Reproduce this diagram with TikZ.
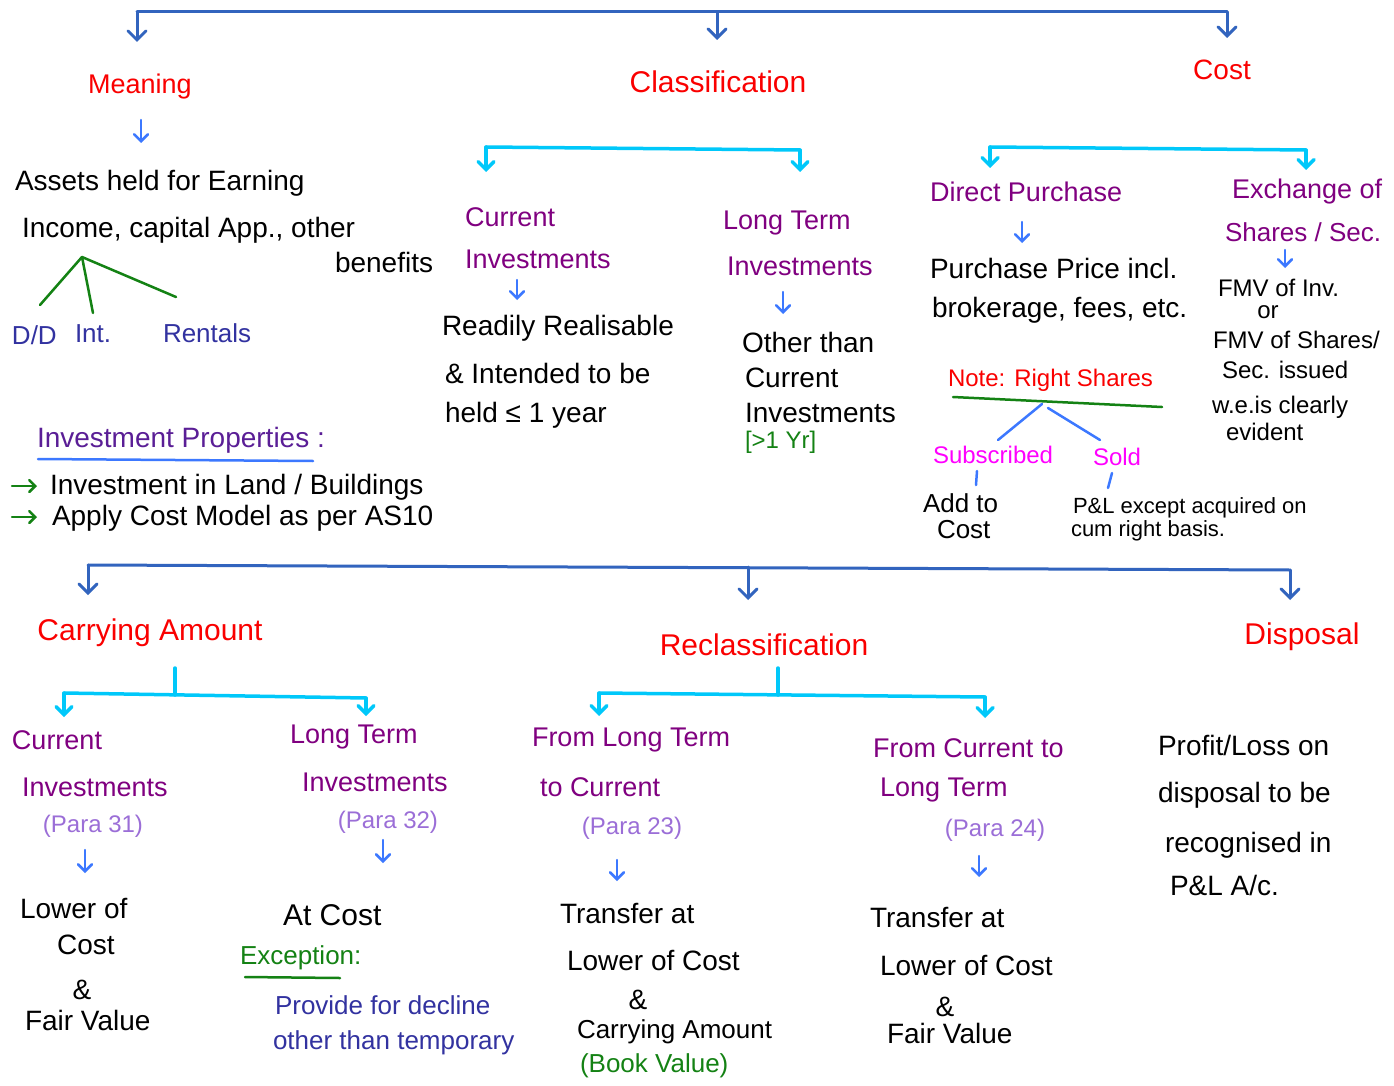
\documentclass[tikz,border=0pt]{standalone}
\usepackage{fontspec}
\setmainfont{Liberation Sans}
\usetikzlibrary{arrows.meta}
\definecolor{mainblue}{RGB}{50,100,190}
\definecolor{cyanb}{RGB}{0,200,250}
\definecolor{ablue}{RGB}{60,120,255}
\definecolor{hred}{RGB}{250,0,0}
\definecolor{hpurple}{RGB}{128,0,128}
\definecolor{lpurple}{RGB}{155,110,215}
\definecolor{navy}{RGB}{50,50,160}
\definecolor{ipurple}{RGB}{90,30,150}
\definecolor{dgreen}{RGB}{20,130,20}
\definecolor{magen}{RGB}{255,0,255}
\newcommand{\myfs}[1]{\fontsize{#1}{#1}\selectfont}
\tikzset{
  txt/.style={inner sep=0pt, outer sep=0pt, anchor=west},
  ctxt/.style={inner sep=0pt, outer sep=0pt, anchor=center},
  head/.style={text=hred, font=\myfs{30}},
  sub/.style={text=hpurple, font=\myfs{27}},
  body/.style={text=black, font=\myfs{28}},
  smallbody/.style={text=black, font=\myfs{24}},
  para/.style={text=lpurple, font=\myfs{24}},
  navytxt/.style={text=navy, font=\myfs{26}},
  greentxt/.style={text=dgreen, font=\myfs{26}},
  magtxt/.style={text=magen, font=\myfs{24}},
  mainln/.style={draw=mainblue, line width=3pt, line cap=round},
  mainarr/.style={mainln, -{Straight Barb[length=9pt,width=18pt,line cap=round]}},
  cyln/.style={draw=cyanb, line width=3.5pt, line cap=round},
  cyarr/.style={cyln, -{Straight Barb[length=8pt,width=16pt,line cap=round]}},
  sarr/.style={draw=ablue, line width=2.5pt, line cap=round, -{Straight Barb[length=7pt,width=14pt,line cap=round]}},
  garr/.style={draw=dgreen, line width=2.5pt, line cap=round, -{Straight Barb[length=6pt,width=12pt,line cap=round]}},
  gline/.style={draw=dgreen, line width=2.5pt, line cap=round},
  bline/.style={draw=ablue, line width=2.5pt, line cap=round},
}
\begin{document}
\begin{tikzpicture}[x=1pt,y=-1pt]
\fill[white] (0,0) rectangle (1394,1086);
\useasboundingbox (0,0) rectangle (1394,1086);

% ---------- top bracket ----------
\coordinate (tL) at (137,12); \coordinate (tM) at (717,12); \coordinate (tR) at (1227,12);
\coordinate (tLe) at (137,42); \coordinate (tMe) at (717,40); \coordinate (tRe) at (1227,38);
\draw[mainln] (tL) -- (tR);
\draw[mainarr] (tL) -- (tLe);
\draw[mainarr] (tM) -- (tMe);
\draw[mainarr] (tR) -- (tRe);

\node[ctxt,head,font=\myfs{27}] (meaning) at (140,87) {Meaning};
\node[ctxt,head] (classif) at (718,82) {Classification};
\node[ctxt,head,font=\myfs{28}] (cost) at (1222,70) {Cost};

% ---------- Meaning ----------
\coordinate (ma1) at (141,120); \coordinate (ma2) at (141,143);
\draw[sarr] (ma1) -- (ma2);
\node[txt,body] (assets) at (15,183) {Assets held for Earning};
\node[txt,body] (income) at (22,230) {Income, capital App., other};
\node[txt,body] (benef) at (335,262) {benefits};
\coordinate (gapex) at (82,257);
\coordinate (g1) at (40,305); \coordinate (g2) at (93,313); \coordinate (g3) at (176,297);
\draw[gline] (gapex) -- (g1);
\draw[gline] (gapex) -- (g2);
\draw[gline] (gapex) -- (g3);
\node[txt,navytxt] (dd) at (12,335) {D/D};
\node[txt,navytxt] (int) at (75,334) {Int.};
\node[txt,navytxt] (rent) at (163,333) {Rentals};

% ---------- Investment properties ----------
\node[txt,text=ipurple,font=\myfs{28}] (invprop) at (37,440) {Investment Properties :};
\coordinate (u1) at (38,459); \coordinate (u2) at (313,461);
\draw[bline] (u1) -- (u2);
\coordinate (ga1) at (12,486); \coordinate (ga2) at (37,486);
\coordinate (gb1) at (12,517); \coordinate (gb2) at (37,517);
\draw[garr] (ga1) -- (ga2);
\draw[garr] (gb1) -- (gb2);
\node[txt,body] (land) at (50,487) {Investment in Land / Buildings};
\node[txt,body] (apply) at (52,518) {Apply Cost Model as per AS10};

% ---------- Classification ----------
\coordinate (cA) at (486,147); \coordinate (cB) at (800,150);
\coordinate (cAe) at (486,172); \coordinate (cBe) at (800,172);
\draw[cyln] (cA) -- (cB);
\draw[cyarr] (cA) -- (cAe);
\draw[cyarr] (cB) -- (cBe);

\node[txt,sub] (curr1) at (465,217) {Current};
\node[txt,sub] (curr2) at (465,259) {Investments};
\coordinate (ca1) at (517,280); \coordinate (ca2) at (517,300);
\draw[sarr] (ca1) -- (ca2);
\node[txt,body] (ready1) at (442,328) {Readily Realisable};
\node[txt,body] (ready2) at (445,373) {\& Intended to be};
\node[txt,body] (ready3) at (445,415) {held ≤ 1 year};

\node[txt,sub] (lt1) at (723,223) {Long Term};
\node[txt,sub] (lt2) at (727,266) {Investments};
\coordinate (la1) at (783,292); \coordinate (la2) at (783,314);
\draw[sarr] (la1) -- (la2);
\node[txt,body] (oth1) at (742,342) {Other than};
\node[txt,body] (oth2) at (745,378) {Current};
\node[txt,body] (oth3) at (745,413) {Investments};
\node[txt,greentxt,font=\myfs{24}] (gt1) at (745,442) {[>1 Yr]};

% ---------- Cost ----------
\coordinate (kA) at (990,147); \coordinate (kB) at (1306,150);
\coordinate (kAe) at (990,168); \coordinate (kBe) at (1306,170);
\draw[cyln] (kA) -- (kB);
\draw[cyarr] (kA) -- (kAe);
\draw[cyarr] (kB) -- (kBe);

\node[txt,sub] (dp) at (930,192) {Direct Purchase};
\coordinate (da1) at (1022,222); \coordinate (da2) at (1022,243);
\draw[sarr] (da1) -- (da2);
\node[txt,body] (pp1) at (930,268) {Purchase Price incl.};
\node[txt,body] (pp2) at (932,310) {brokerage, fees, etc.};

\node[txt,head,font=\myfs{24}] (note) at (948,380) {Note: Right Shares};
\coordinate (n1) at (953,397); \coordinate (n2) at (1162,407);
\draw[gline] (n1) -- (n2);
\coordinate (rsA) at (1042,404); \coordinate (rsB) at (1048,408);
\coordinate (rsL) at (998,440); \coordinate (rsR) at (1100,440);
\draw[bline] (rsA) -- (rsL);
\draw[bline] (rsB) -- (rsR);
\node[txt,magtxt] (subs) at (933,455) {Subscribed};
\node[txt,magtxt] (sold) at (1093,457) {Sold};
\coordinate (st1) at (977,471); \coordinate (st2) at (976,485);
\coordinate (so1) at (1112,473); \coordinate (so2) at (1108,488);
\draw[bline] (st1) -- (st2);
\draw[bline] (so1) -- (so2);
\node[txt,body,font=\myfs{26}] (add1) at (923,503) {Add to};
\node[txt,body,font=\myfs{26}] (add2) at (937,530) {Cost};
\node[txt,body,font=\myfs{22}] (pl1) at (1073,508) {P\&L except acquired on};
\node[txt,body,font=\myfs{22}] (pl2) at (1071,531) {cum right basis.};

\node[txt,sub] (ex1) at (1232,192) {Exchange of};
\node[txt,sub,font=\myfs{26}] (ex2) at (1225,232) {Shares / Sec.};
\coordinate (ea1) at (1285,250); \coordinate (ea2) at (1285,268);
\draw[sarr] (ea1) -- (ea2);
\node[txt,smallbody] (fmv1) at (1218,288) {FMV of Inv.};
\node[ctxt,smallbody] (fmvor) at (1268,312) {or};
\node[txt,smallbody] (fmv2) at (1213,340) {FMV of Shares/};
\node[txt,smallbody] (fmv3) at (1222,370) {Sec. issued};
\node[txt,smallbody] (fmv4) at (1212,407) {w.e.is clearly};
\node[txt,smallbody] (fmv5) at (1226,432) {evident};

% ---------- middle bracket ----------
\coordinate (mL) at (88,565); \coordinate (mM) at (748,567); \coordinate (mR) at (1290,570);
\coordinate (mLe) at (88,595); \coordinate (mMe) at (748,600); \coordinate (mRe) at (1290,600);
\draw[mainln] (mL) -- (mR);
\draw[mainarr] (mL) -- (mLe);
\draw[mainarr] (mM) -- (mMe);
\draw[mainarr] (mR) -- (mRe);

\node[ctxt,head] (carry) at (150,633) {Carrying Amount};
\node[ctxt,head] (reclass) at (764,645) {Reclassification};
\node[ctxt,head] (disp) at (1302,637) {Disposal};

% ---------- Carrying amount ----------
\coordinate (cas1) at (175,668); \coordinate (cas2) at (175,695);
\coordinate (caA) at (64,693); \coordinate (caB) at (366,698);
\coordinate (caAe) at (64,717); \coordinate (caBe) at (366,716);
\draw[cyln] (cas1) -- (cas2);
\draw[cyln] (caA) -- (caB);
\draw[cyarr] (caA) -- (caAe);
\draw[cyarr] (caB) -- (caBe);

\node[txt,sub] (bc1) at (12,740) {Current};
\node[txt,sub] (bc2) at (22,787) {Investments};
\node[ctxt,para] (p31) at (93,826) {(Para 31)};
\coordinate (pa1) at (85,850); \coordinate (pa2) at (85,873);
\draw[sarr] (pa1) -- (pa2);
\node[txt,body] (low1) at (20,908) {Lower of};
\node[ctxt,body] (low2) at (86,945) {Cost};
\node[ctxt,body] (low3) at (82,990) {\&};
\node[txt,body] (low4) at (25,1020) {Fair Value};

\node[txt,sub] (bl1) at (290,737) {Long Term};
\node[txt,sub] (bl2) at (302,782) {Investments};
\node[ctxt,para] (p32) at (388,822) {(Para 32)};
\coordinate (pb1) at (383,840); \coordinate (pb2) at (383,863);
\draw[sarr] (pb1) -- (pb2);
\node[txt,body,font=\myfs{30}] (atcost) at (283,915) {At Cost};
\node[txt,greentxt] (exc) at (240,958) {Exception:};
\coordinate (xu1) at (245,977); \coordinate (xu2) at (340,978);
\draw[gline] (xu1) -- (xu2);
\node[txt,navytxt] (prov1) at (275,1005) {Provide for decline};
\node[txt,navytxt] (prov2) at (273,1043) {other than temporary};

% ---------- Reclassification ----------
\coordinate (rs1) at (778,668); \coordinate (rs2) at (778,695);
\coordinate (rA) at (599,693); \coordinate (rB) at (985,697);
\coordinate (rAe) at (599,716); \coordinate (rBe) at (985,718);
\draw[cyln] (rs1) -- (rs2);
\draw[cyln] (rA) -- (rB);
\draw[cyarr] (rA) -- (rAe);
\draw[cyarr] (rB) -- (rBe);

\node[txt,sub] (fl1) at (532,740) {From Long Term};
\node[txt,sub] (fl2) at (540,787) {to Current};
\node[ctxt,para] (p23) at (632,828) {(Para 23)};
\coordinate (pc1) at (617,860); \coordinate (pc2) at (617,881);
\draw[sarr] (pc1) -- (pc2);
\node[txt,body] (tr1) at (560,913) {Transfer at};
\node[txt,body] (tr2) at (567,960) {Lower of Cost};
\node[ctxt,body] (tr3) at (638,1000) {\&};
\node[txt,body,font=\myfs{26}] (tr4) at (577,1032) {Carrying Amount};
\node[txt,greentxt] (tr5) at (580,1066) {(Book Value)};

\node[txt,sub] (fc1) at (873,748) {From Current to};
\node[txt,sub] (fc2) at (880,790) {Long Term};
\node[ctxt,para] (p24) at (995,830) {(Para 24)};
\coordinate (pd1) at (979,856); \coordinate (pd2) at (979,877);
\draw[sarr] (pd1) -- (pd2);
\node[txt,body] (ts1) at (870,917) {Transfer at};
\node[txt,body] (ts2) at (880,965) {Lower of Cost};
\node[ctxt,body] (ts3) at (945,1007) {\&};
\node[txt,body] (ts4) at (887,1033) {Fair Value};

% ---------- Disposal ----------
\node[txt,body] (pr1) at (1158,745) {Profit/Loss on};
\node[txt,body] (pr2) at (1158,795) {disposal to be};
\node[txt,body] (pr3) at (1165,845) {recognised in};
\node[txt,body] (pr4) at (1170,885) {P\&L A/c.};
\end{tikzpicture}
\end{document}
